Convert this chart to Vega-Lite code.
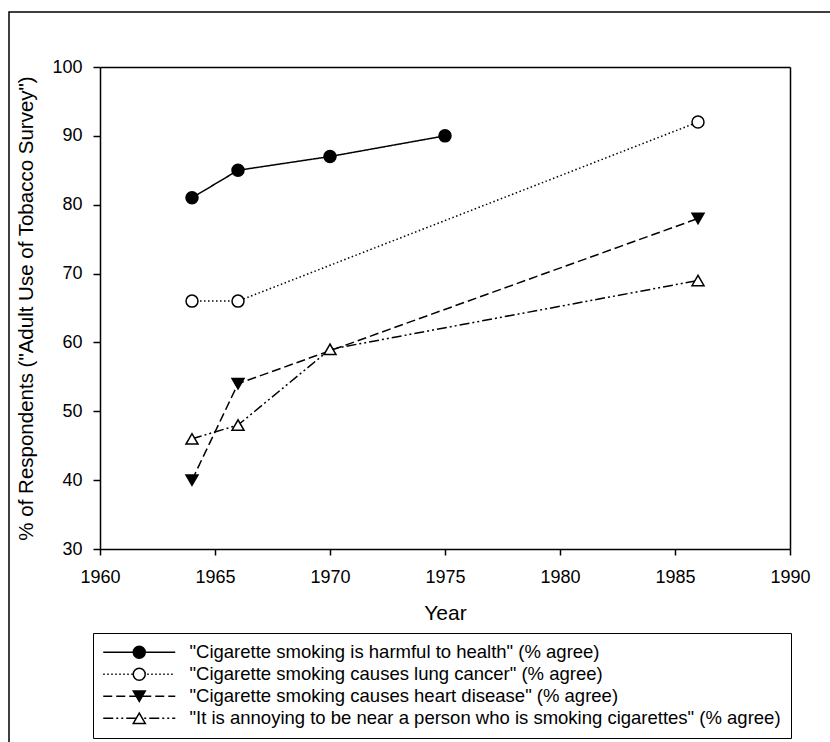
{
  "$schema": "https://vega.github.io/schema/vega-lite/v6.json",
  "width": 830,
  "height": 740,
  "autosize": {"type": "none"},
  "padding": {"left": 9, "top": 12, "right": 0, "bottom": 0},
  "background": "white",
  "config": {
    "font": "Liberation Sans",
    "view": {"stroke": "black", "strokeWidth": 1.5},
    "axis": {
      "grid": false,
      "domainColor": "black",
      "domainWidth": 1.5,
      "tickColor": "black",
      "tickWidth": 1.5,
      "labelColor": "black",
      "titleColor": "black",
      "labelFont": "Liberation Sans",
      "titleFont": "Liberation Sans",
      "labelFontSize": 18,
      "titleFontSize": 21,
      "titleFontWeight": "normal"
    },
    "legend": {
      "labelFont": "Liberation Sans",
      "labelFontSize": 18.5,
      "labelColor": "black"
    }
  },
  "data": {
    "values": [
      {"series": "\"Cigarette smoking is harmful to health\" (% agree)", "year": 1964, "pct": 81},
      {"series": "\"Cigarette smoking is harmful to health\" (% agree)", "year": 1966, "pct": 85},
      {"series": "\"Cigarette smoking is harmful to health\" (% agree)", "year": 1970, "pct": 87},
      {"series": "\"Cigarette smoking is harmful to health\" (% agree)", "year": 1975, "pct": 90},
      {"series": "\"Cigarette smoking causes lung cancer\" (% agree)", "year": 1964, "pct": 66},
      {"series": "\"Cigarette smoking causes lung cancer\" (% agree)", "year": 1966, "pct": 66},
      {"series": "\"Cigarette smoking causes lung cancer\" (% agree)", "year": 1986, "pct": 92},
      {"series": "\"Cigarette smoking causes heart disease\" (% agree)", "year": 1964, "pct": 40},
      {"series": "\"Cigarette smoking causes heart disease\" (% agree)", "year": 1966, "pct": 54},
      {"series": "\"Cigarette smoking causes heart disease\" (% agree)", "year": 1986, "pct": 78},
      {"series": "\"It is annoying to be near a person who is smoking cigarettes\" (% agree)", "year": 1964, "pct": 46},
      {"series": "\"It is annoying to be near a person who is smoking cigarettes\" (% agree)", "year": 1966, "pct": 48},
      {"series": "\"It is annoying to be near a person who is smoking cigarettes\" (% agree)", "year": 1970, "pct": 59},
      {"series": "\"It is annoying to be near a person who is smoking cigarettes\" (% agree)", "year": 1986, "pct": 69}
    ]
  },
  "resolve": {"axis": {"x": "independent", "y": "independent"}},
  "layer": [
    {
      "mark": {"type": "line", "color": "black", "strokeWidth": 1.5},
      "encoding": {
        "x": {
          "field": "year",
          "type": "quantitative",
          "scale": {"domain": [1960, 1990], "range": [91, 781], "nice": false, "zero": false},
          "axis": {
            "orient": "bottom",
            "offset": -203,
            "title": "Year",
            "values": [1960, 1965, 1970, 1975, 1980, 1985, 1990],
            "format": "d",
            "tickSize": 6,
            "labelPadding": 13,
            "titlePadding": 16,
            "labelFlush": false,
            "labelOverlap": false
          }
        },
        "y": {
          "field": "pct",
          "type": "quantitative",
          "scale": {"domain": [30, 100], "range": [537, 55], "nice": false, "zero": false},
          "axis": {
            "orient": "left",
            "offset": -91,
            "title": "% of Respondents (\"Adult Use of Tobacco Survey\")",
            "titleFontSize": 20.5,
            "values": [30, 40, 50, 60, 70, 80, 90, 100],
            "tickSize": 7,
            "labelPadding": 11,
            "titlePadding": 15
          }
        },
        "strokeDash": {
          "field": "series",
          "type": "nominal",
          "sort": null,
          "scale": {"range": [[1, 0], [1.5, 2.5], [9, 4], [10, 3, 2, 3, 2, 3]]},
          "legend": {
            "orient": "none",
            "legendX": 84,
            "legendY": 621,
            "title": null,
            "padding": 10,
            "rowPadding": 3,
            "strokeColor": "black",
            "symbolType": "M-6,0H6",
            "symbolSize": 144,
            "symbolStrokeColor": "black",
            "symbolStrokeWidth": 1.5,
            "symbolOffset": 27,
            "labelOffset": 41,
            "labelLimit": 800,
            "zindex": 0
          }
        }
      }
    },
    {
      "mark": {"type": "point", "filled": true, "size": 144, "strokeWidth": 1.5, "opacity": 1},
      "encoding": {
        "x": {
          "field": "year",
          "type": "quantitative",
          "axis": {"orient": "top", "offset": -55, "labels": false, "ticks": false, "title": null}
        },
        "y": {
          "field": "pct",
          "type": "quantitative",
          "axis": {"orient": "right", "offset": -49, "labels": false, "ticks": false, "title": null}
        },
        "shape": {
          "field": "series",
          "type": "nominal",
          "scale": {
            "domain": [
              "\"Cigarette smoking is harmful to health\" (% agree)",
              "\"Cigarette smoking causes lung cancer\" (% agree)",
              "\"Cigarette smoking causes heart disease\" (% agree)",
              "\"It is annoying to be near a person who is smoking cigarettes\" (% agree)"
            ],
            "range": ["circle", "circle", "triangle-down", "triangle-up"]
          },
          "legend": {
            "orient": "none",
            "legendX": 84,
            "legendY": 621,
            "title": null,
            "padding": 10,
            "rowPadding": 3,
            "symbolSize": 144,
            "symbolStrokeWidth": 1.5,
            "symbolOpacity": 1,
            "symbolOffset": 27,
            "labelOffset": 41,
            "labelLimit": 800,
            "labelOpacity": 0,
            "zindex": 1
          }
        },
        "fill": {
          "field": "series",
          "type": "nominal",
          "scale": {
            "domain": [
              "\"Cigarette smoking is harmful to health\" (% agree)",
              "\"Cigarette smoking causes lung cancer\" (% agree)",
              "\"Cigarette smoking causes heart disease\" (% agree)",
              "\"It is annoying to be near a person who is smoking cigarettes\" (% agree)"
            ],
            "range": ["black", "white", "black", "white"]
          },
          "legend": {
            "orient": "none",
            "legendX": 84,
            "legendY": 621,
            "title": null,
            "padding": 10,
            "rowPadding": 3,
            "symbolSize": 144,
            "symbolStrokeWidth": 1.5,
            "symbolOpacity": 1,
            "symbolOffset": 27,
            "labelOffset": 41,
            "labelLimit": 800,
            "labelOpacity": 0,
            "zindex": 1
          }
        },
        "stroke": {
          "field": "series",
          "type": "nominal",
          "scale": {
            "domain": [
              "\"Cigarette smoking is harmful to health\" (% agree)",
              "\"Cigarette smoking causes lung cancer\" (% agree)",
              "\"Cigarette smoking causes heart disease\" (% agree)",
              "\"It is annoying to be near a person who is smoking cigarettes\" (% agree)"
            ],
            "range": ["black", "black", "black", "black"]
          },
          "legend": {
            "orient": "none",
            "legendX": 84,
            "legendY": 621,
            "title": null,
            "padding": 10,
            "rowPadding": 3,
            "symbolSize": 144,
            "symbolStrokeWidth": 1.5,
            "symbolOpacity": 1,
            "symbolOffset": 27,
            "labelOffset": 41,
            "labelLimit": 800,
            "labelOpacity": 0,
            "zindex": 1
          }
        }
      }
    }
  ]
}
